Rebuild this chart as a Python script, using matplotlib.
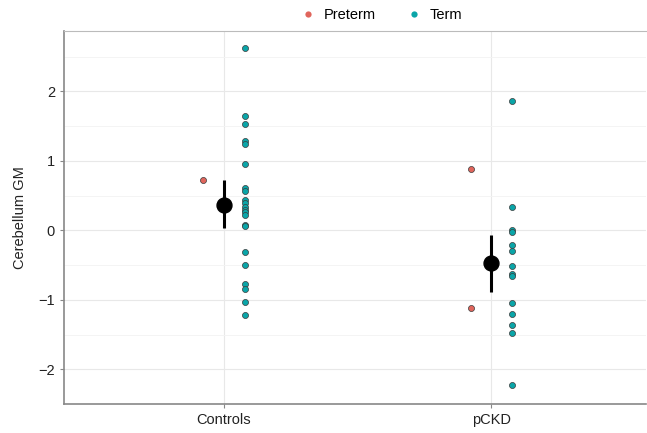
import matplotlib
matplotlib.use("Agg")
import matplotlib.pyplot as plt
from matplotlib.lines import Line2D
import numpy as np

plt.rcParams["font.family"] = ["Liberation Sans", "DejaVu Sans"]

categories = ["Controls", "pCKD"]
controls_term = [2.63, 1.65, 1.53, 1.29, 1.24, 0.95, 0.61, 0.56, 0.44, 0.39, 0.34,
                 0.30, 0.26, 0.22, 0.08, 0.06, -0.31, -0.50, -0.77, -0.84, -1.03, -1.22]
controls_preterm = [0.73]
pckd_term = [1.86, 0.34, 0.01, -0.03, -0.21, -0.29, -0.52, -0.63, -0.66,
             -1.05, -1.20, -1.36, -1.48, -2.22]
pckd_preterm = [0.89, -1.12]
group_means = [0.36, -0.47]
ci_low = [0.04, -0.89]
ci_high = [0.73, -0.06]
yticks = [-2, -1, 0, 1, 2]

term_color = "#0AA5A8"
preterm_color = "#E0655C"
edge = "#3a3a3a"

fig = plt.figure(figsize=(6.47, 4.33), dpi=100)
ax = fig.add_axes([64/647, 1-404/433, 582/647, 373/433])

xpos = np.arange(1, len(categories) + 1)
off = 0.077
terms = [controls_term, pckd_term]
preterms = [controls_preterm, pckd_preterm]
for i, x in enumerate(xpos):
    ax.scatter([x + off] * len(terms[i]), terms[i], s=19, color=term_color,
               edgecolors=edge, linewidths=0.5, zorder=3)
    ax.scatter([x - off] * len(preterms[i]), preterms[i], s=19, color=preterm_color,
               edgecolors=edge, linewidths=0.5, zorder=3)

ax.vlines(xpos, ci_low, ci_high, color="black", linewidth=2.2, zorder=4)
ax.scatter(xpos, group_means, s=115, color="black", zorder=5)

ax.set_xlim(0.401, 2.58)
ax.set_ylim(-2.457, 2.871)
ax.set_xticks(xpos)
ax.set_xticklabels(categories, fontsize=10.5, color="#222222")
ax.set_yticks(yticks)
ax.set_yticklabels([str(t).replace("-", "\u2212") for t in yticks], fontsize=10.5, color="#222222")
ax.set_yticks(np.arange(-2.5, 3.0, 1.0), minor=True)
ax.tick_params(axis="both", which="major", length=3, color="#888888", width=0.8)
ax.tick_params(axis="y", which="minor", length=0)
ax.grid(True, which="major", color="#E8E8E8", linewidth=0.8, zorder=0)
ax.grid(True, which="minor", axis="y", color="#F3F3F3", linewidth=0.6, zorder=0)
ax.set_axisbelow(True)

ax.spines["left"].set_color("#888888")
ax.spines["bottom"].set_color("#888888")
ax.spines["left"].set_linewidth(1.2)
ax.spines["bottom"].set_linewidth(1.2)
ax.spines["top"].set_color("#BBBBBB")
ax.spines["right"].set_visible(False)

ax.set_ylabel("Cerebellum GM", fontsize=10.5, color="#222222", labelpad=8)

handles = [Line2D([], [], marker="o", linestyle="", markersize=4.5, markerfacecolor=preterm_color,
                  markeredgecolor="none", label="Preterm"),
           Line2D([], [], marker="o", linestyle="", markersize=4.5, markerfacecolor=term_color,
                  markeredgecolor="none", label="Term")]
fig.legend(handles=handles, loc="center", bbox_to_anchor=(378/647, 1-15/433), ncol=2,
           frameon=False, fontsize=10.5, handletextpad=0.1, columnspacing=1.6)

fig.savefig("out.png", dpi=100)
